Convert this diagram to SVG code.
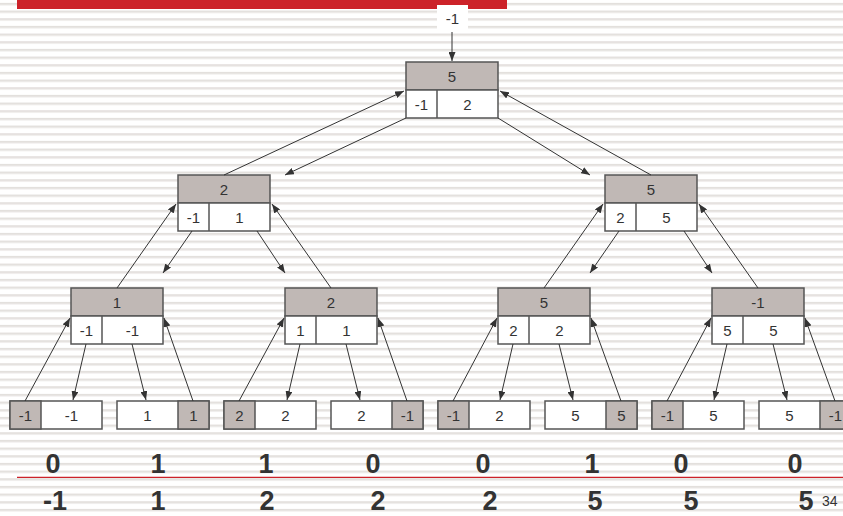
<svg xmlns="http://www.w3.org/2000/svg" width="843" height="516" viewBox="0 0 843 516">
<defs>
<pattern id="stripes" patternUnits="userSpaceOnUse" x="0" y="0" width="843" height="7.667">
<rect x="0" y="0" width="843" height="7.667" fill="#ffffff"/>
<rect x="0" y="3.2" width="843" height="1.2" fill="#d6d0cc"/>
<rect x="0" y="4.4" width="843" height="0.9" fill="#e8e4e1"/>
</pattern>
<marker id="ah" markerUnits="userSpaceOnUse" markerWidth="9" markerHeight="7" refX="9" refY="3.5" orient="auto">
<path d="M0,0 L9,3.5 L0,7 z" fill="#333"/>
</marker>
<style>
.g{fill:#c0b8b5;stroke:#555;stroke-width:1.5}
.w{fill:#fff;stroke:#555;stroke-width:1.5}
.t{font-family:"Liberation Sans",Arial,sans-serif;font-size:15px;fill:#333;text-anchor:middle;dominant-baseline:central}
.b{font-family:"Liberation Sans",Arial,sans-serif;font-size:27px;font-weight:bold;fill:#333;text-anchor:middle}
.c line{stroke:#333;stroke-width:1;marker-end:url(#ah)}
</style>
</defs>
<rect width="843" height="516" fill="url(#stripes)"/>
<rect x="17" y="0" width="490" height="9" fill="#cc2229"/>
<line x1="17" y1="477.3" x2="843" y2="477.3" stroke="#cc2229" stroke-width="1.2"/>

<g id="input">
<rect x="437" y="5" width="31" height="25" fill="#fff"/>
<text class="t" x="452.5" y="18">-1</text>
</g>

<g id="root">
<rect class="g" x="406" y="62" width="92" height="28"/>
<rect class="w" x="406" y="90" width="92" height="28"/>
<line x1="437" y1="90" x2="437" y2="118" stroke="#555" stroke-width="1.5"/>
<text class="t" x="452" y="76">5</text>
<text class="t" x="421.5" y="104">-1</text>
<text class="t" x="467.5" y="104">2</text>
</g>

<g id="n1L">
<rect class="g" x="178" y="175" width="92" height="28"/>
<rect class="w" x="178" y="203" width="92" height="28"/>
<line x1="209" y1="203" x2="209" y2="231" stroke="#555" stroke-width="1.5"/>
<text class="t" x="224" y="189">2</text>
<text class="t" x="193.5" y="217">-1</text>
<text class="t" x="239.5" y="217">1</text>
</g>
<g id="n1R">
<rect class="g" x="605" y="175" width="92" height="28"/>
<rect class="w" x="605" y="203" width="92" height="28"/>
<line x1="636" y1="203" x2="636" y2="231" stroke="#555" stroke-width="1.5"/>
<text class="t" x="651" y="189">5</text>
<text class="t" x="620.5" y="217">2</text>
<text class="t" x="666.5" y="217">5</text>
</g>

<g id="n2a">
<rect class="g" x="71" y="288" width="92" height="28"/>
<rect class="w" x="71" y="316" width="92" height="28"/>
<line x1="102" y1="316" x2="102" y2="344" stroke="#555" stroke-width="1.5"/>
<text class="t" x="117" y="302">1</text>
<text class="t" x="86.5" y="330">-1</text>
<text class="t" x="132.5" y="330">-1</text>
</g>
<g id="n2b">
<rect class="g" x="285" y="288" width="92" height="28"/>
<rect class="w" x="285" y="316" width="92" height="28"/>
<line x1="316" y1="316" x2="316" y2="344" stroke="#555" stroke-width="1.5"/>
<text class="t" x="331" y="302">2</text>
<text class="t" x="300.5" y="330">1</text>
<text class="t" x="346.5" y="330">1</text>
</g>
<g id="n2c">
<rect class="g" x="498" y="288" width="92" height="28"/>
<rect class="w" x="498" y="316" width="92" height="28"/>
<line x1="529" y1="316" x2="529" y2="344" stroke="#555" stroke-width="1.5"/>
<text class="t" x="544" y="302">5</text>
<text class="t" x="513.5" y="330">2</text>
<text class="t" x="559.5" y="330">2</text>
</g>
<g id="n2d">
<rect class="g" x="712" y="288" width="92" height="28"/>
<rect class="w" x="712" y="316" width="92" height="28"/>
<line x1="743" y1="316" x2="743" y2="344" stroke="#555" stroke-width="1.5"/>
<text class="t" x="758" y="302">-1</text>
<text class="t" x="727.5" y="330">5</text>
<text class="t" x="773.5" y="330">5</text>
</g>

<g id="leaf1">
<rect class="w" x="10" y="401" width="92" height="28"/>
<rect class="g" x="10" y="401" width="31" height="28"/>
<text class="t" x="25.5" y="415">-1</text>
<text class="t" x="71.5" y="415">-1</text>
</g>
<g id="leaf2">
<rect class="w" x="117" y="401" width="92" height="28"/>
<rect class="g" x="178" y="401" width="31" height="28"/>
<text class="t" x="147.5" y="415">1</text>
<text class="t" x="193.5" y="415">1</text>
</g>
<g id="leaf3">
<rect class="w" x="224" y="401" width="92" height="28"/>
<rect class="g" x="224" y="401" width="31" height="28"/>
<text class="t" x="239.5" y="415">2</text>
<text class="t" x="285.5" y="415">2</text>
</g>
<g id="leaf4">
<rect class="w" x="331" y="401" width="92" height="28"/>
<rect class="g" x="392" y="401" width="31" height="28"/>
<text class="t" x="361.5" y="415">2</text>
<text class="t" x="407.5" y="415">-1</text>
</g>
<g id="leaf5">
<rect class="w" x="438" y="401" width="92" height="28"/>
<rect class="g" x="438" y="401" width="31" height="28"/>
<text class="t" x="453.5" y="415">-1</text>
<text class="t" x="499.5" y="415">2</text>
</g>
<g id="leaf6">
<rect class="w" x="545" y="401" width="92" height="28"/>
<rect class="g" x="606" y="401" width="31" height="28"/>
<text class="t" x="575.5" y="415">5</text>
<text class="t" x="621.5" y="415">5</text>
</g>
<g id="leaf7">
<rect class="w" x="652" y="401" width="92" height="28"/>
<rect class="g" x="652" y="401" width="31" height="28"/>
<text class="t" x="667.5" y="415">-1</text>
<text class="t" x="713.5" y="415">5</text>
</g>
<g id="leaf8">
<rect class="w" x="759" y="401" width="92" height="28"/>
<rect class="g" x="820" y="401" width="31" height="28"/>
<text class="t" x="789.5" y="415">5</text>
<text class="t" x="835.5" y="415">-1</text>
</g>

<g id="connectors" class="c">
<line x1="452" y1="32" x2="452" y2="61"/>
<line x1="224" y1="175" x2="404" y2="91"/>
<line x1="406" y1="118" x2="285" y2="175"/>
<line x1="651" y1="175" x2="500" y2="91"/>
<line x1="498" y1="118" x2="590" y2="175"/>

<line x1="117" y1="288" x2="176" y2="204"/>
<line x1="192" y1="231" x2="163" y2="273"/>
<line x1="257" y1="231" x2="285" y2="273"/>
<line x1="331" y1="288" x2="272" y2="204"/>
<line x1="544" y1="288" x2="603" y2="204"/>
<line x1="619" y1="231" x2="590" y2="273"/>
<line x1="684" y1="231" x2="712" y2="273"/>
<line x1="758" y1="288" x2="699" y2="204"/>

<line x1="25" y1="401" x2="70" y2="318"/>
<line x1="86" y1="344" x2="73" y2="400"/>
<line x1="132" y1="344" x2="146" y2="400"/>
<line x1="193" y1="401" x2="164" y2="318"/>

<line x1="239" y1="401" x2="284" y2="318"/>
<line x1="300" y1="344" x2="287" y2="400"/>
<line x1="346" y1="344" x2="360" y2="400"/>
<line x1="407" y1="401" x2="378" y2="318"/>

<line x1="453" y1="401" x2="497" y2="318"/>
<line x1="513" y1="344" x2="500" y2="400"/>
<line x1="559" y1="344" x2="573" y2="400"/>
<line x1="621" y1="401" x2="591" y2="318"/>

<line x1="667" y1="401" x2="711" y2="318"/>
<line x1="727" y1="344" x2="714" y2="400"/>
<line x1="773" y1="344" x2="787" y2="400"/>
<line x1="835" y1="401" x2="805" y2="318"/>
</g>

<g id="row1">
<text class="b" x="53" y="473">0</text>
<text class="b" x="158" y="473">1</text>
<text class="b" x="266" y="473">1</text>
<text class="b" x="373" y="473">0</text>
<text class="b" x="483" y="473">0</text>
<text class="b" x="592" y="473">1</text>
<text class="b" x="681" y="473">0</text>
<text class="b" x="795" y="473">0</text>
</g>
<g id="row2">
<text class="b" x="55" y="510">-1</text>
<text class="b" x="158" y="510">1</text>
<text class="b" x="267" y="510">2</text>
<text class="b" x="378" y="510">2</text>
<text class="b" x="490" y="510">2</text>
<text class="b" x="595" y="510">5</text>
<text class="b" x="691" y="510">5</text>
<text class="b" x="806" y="510">5</text>
</g>
<text x="822" y="506" font-family="Liberation Sans, Arial, sans-serif" font-size="14" fill="#333">34</text>
</svg>
